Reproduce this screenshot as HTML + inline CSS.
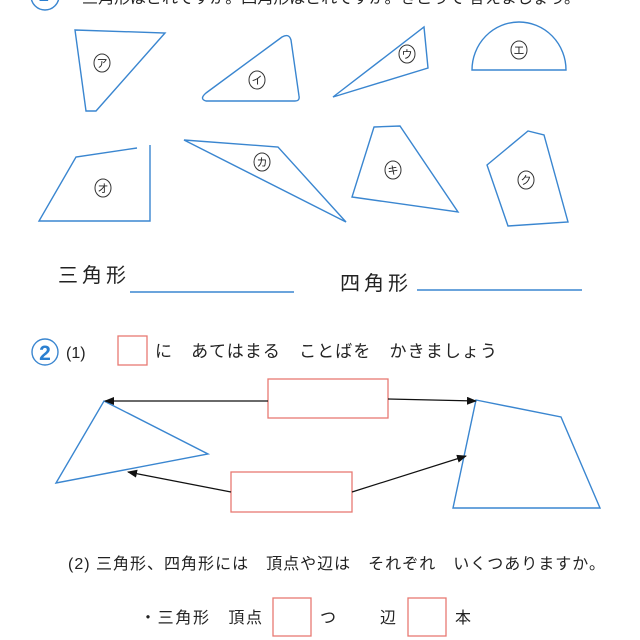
<!DOCTYPE html>
<html><head><meta charset="utf-8"><style>
body{margin:0;background:#fff;}
svg{display:block}
text{font-family:"Liberation Sans","Noto Sans CJK JP",sans-serif;fill:#222}
</style></head><body>
<svg width="640" height="640" viewBox="0 0 640 640" xmlns="http://www.w3.org/2000/svg">
<defs><marker id="ah" markerWidth="10" markerHeight="8" refX="9" refY="4" orient="auto" markerUnits="userSpaceOnUse"><path d="M0,0 L10,4 L0,8 z" fill="#111"/></marker></defs>
<g fill="none" stroke="#3a86d0" stroke-width="1.4">
<circle cx="45" cy="-4" r="14"/>
<path d="M75,30 L165,33 L96,111 L86,111 Z"/>
<path d="M206,93 L282,37 Q289,33 291,40 L299,96 Q300,101 295,101 L206,101 Q199,99 206,93 Z"/>
<path d="M333,97 L424,27 L428,68 Z"/>
<path d="M472,70 A47,48 0 0 1 566,70 Z"/>
<path d="M137,148 L76,157 L39,221 L150,221 L150,145"/>
<path d="M184,140 L278,147 L346,222 Z"/>
<path d="M374,127 L400,126 L458,212 L352,197 Z"/>
<path d="M487,165 L528,131 L544,135 L568,222 L508,226 Z"/>
<line x1="130" y1="292" x2="294" y2="292"/>
<line x1="417" y1="290" x2="582" y2="290"/>
<path d="M104,401 L208,454 L56,483 Z"/>
<path d="M476,400 L561,417 L600,508 L453,508 Z"/>
</g>
<text x="38" y="1" font-size="20" style="fill:#2a7fd0">1</text>
<text x="82" y="3" font-size="15" textLength="498" lengthAdjust="spacingAndGlyphs">三角形はどれですか。四角形はどれですか。きごうで 答えましょう。</text>
<g font-size="11" text-anchor="middle">
<g fill="none" stroke="#333" stroke-width="1"><ellipse cx="102" cy="63" rx="8" ry="9"/><ellipse cx="257" cy="80" rx="8" ry="9"/><ellipse cx="407" cy="54" rx="8" ry="9"/><ellipse cx="519" cy="50" rx="8" ry="9"/><ellipse cx="103" cy="188" rx="8" ry="9"/><ellipse cx="262" cy="162" rx="8" ry="9"/><ellipse cx="393" cy="170" rx="8" ry="9"/><ellipse cx="526" cy="180" rx="8" ry="9"/></g>
<text x="102" y="67">ア</text><text x="257" y="84">イ</text><text x="407" y="58">ウ</text><text x="519" y="54">エ</text><text x="103" y="192">オ</text><text x="262" y="166">カ</text><text x="393" y="174">キ</text><text x="526" y="184">ク</text>
</g>
<text x="58" y="282" font-size="20" textLength="68">三角形</text>
<text x="340" y="290" font-size="20" textLength="68">四角形</text>
<circle cx="45" cy="352" r="13" fill="none" stroke="#3a86d0" stroke-width="1.4"/>
<text x="45" y="360" font-size="21" text-anchor="middle" font-weight="bold" style="fill:#2a7fd0">2</text>
<text x="66" y="358" font-size="16">(1)</text>
<g fill="none" stroke="#e87a72" stroke-width="1.3">
<rect x="118" y="336" width="29" height="29"/>
<rect x="268" y="379" width="120" height="39"/>
<rect x="231" y="472" width="121" height="40"/>
<rect x="273" y="598" width="38" height="38"/>
<rect x="408" y="598" width="38" height="38"/>
</g>
<text x="155" y="357" font-size="17" textLength="342">に　あてはまる　ことばを　かきましょう</text>
<g stroke="#111" stroke-width="1.2" marker-end="url(#ah)">
<line x1="268" y1="401" x2="105" y2="401"/>
<line x1="388" y1="399" x2="476" y2="401"/>
<line x1="231" y1="492" x2="128" y2="472"/>
<line x1="352" y1="492" x2="466" y2="456"/>
</g>
<text x="68" y="569" font-size="16" textLength="537">(2) 三角形、四角形には　頂点や辺は　それぞれ　いくつありますか。</text>
<text x="140" y="623" font-size="16" textLength="122">・三角形　頂点</text>
<text x="320" y="623" font-size="16">つ</text>
<text x="380" y="623" font-size="16">辺</text>
<text x="455" y="623" font-size="16">本</text>
</svg>
</body></html>
